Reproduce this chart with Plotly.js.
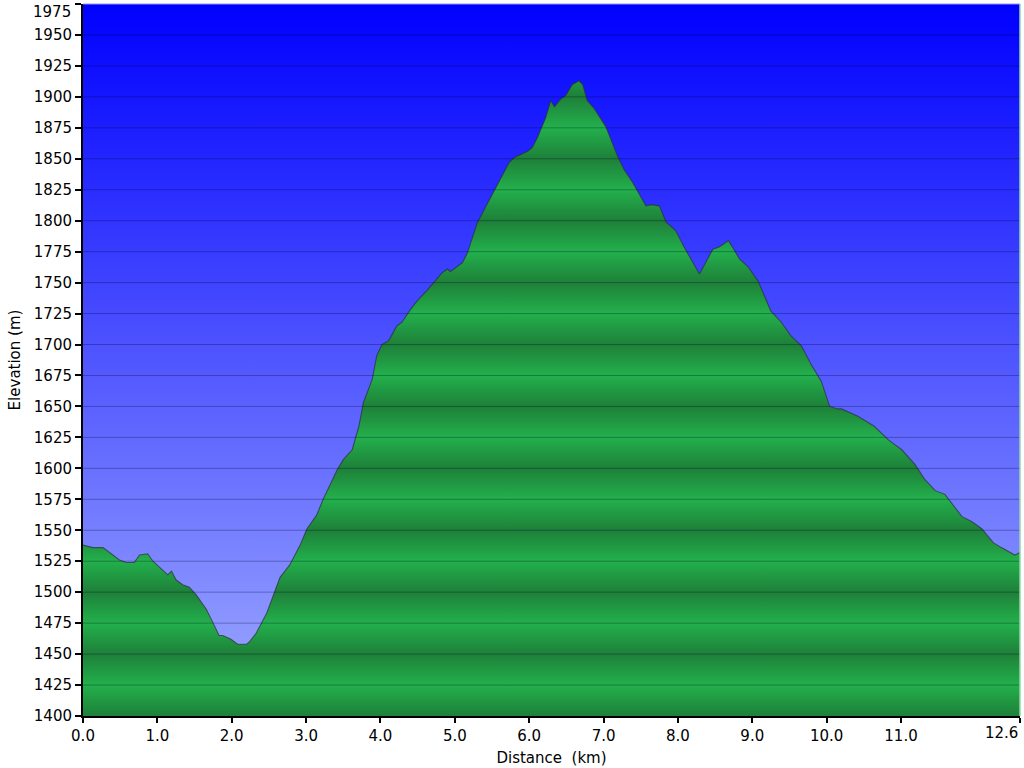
<!DOCTYPE html>
<html>
<head>
<meta charset="utf-8">
<script src="https://cdn.plot.ly/plotly-3.0.1.min.js"></script>
<style>html,body{margin:0;padding:0;background:#fff;}#chart{width:1024px;height:768px;}</style>
</head>
<body>
<div id="chart"></div>
<script>
// Distance (km)
var distanceKm = [0.00,0.13,0.27,0.36,0.49,0.58,0.69,0.76,0.87,0.94,1.03,1.14,1.19,1.25,1.34,1.43,1.52,1.66,1.75,1.83,1.88,1.99,2.08,2.20,2.24,2.33,2.47,2.58,2.65,2.78,2.92,3.01,3.14,3.23,3.42,3.50,3.62,3.71,3.77,3.89,3.95,4.02,4.11,4.22,4.29,4.40,4.49,4.63,4.72,4.78,4.83,4.90,4.94,5.01,5.10,5.17,5.23,5.30,5.44,5.53,5.73,5.80,5.98,6.04,6.11,6.22,6.29,6.34,6.42,6.49,6.58,6.67,6.72,6.78,6.87,7.03,7.19,7.28,7.39,7.57,7.64,7.75,7.84,7.97,8.09,8.29,8.47,8.56,8.68,8.83,8.94,9.08,9.25,9.39,9.52,9.66,9.79,9.93,10.04,10.15,10.20,10.42,10.64,10.83,11.01,11.19,11.32,11.46,11.59,11.82,11.95,12.09,12.24,12.35,12.53,12.60];
// Elevation (m)
var elevationM = [1538,1536,1536,1532,1526,1524,1524,1530,1531,1525,1520,1514,1517,1510,1506,1504,1498,1486,1475,1465,1465,1462,1458,1458,1460,1467,1483,1500,1512,1522,1538,1551,1562,1575,1599,1607,1615,1634,1653,1672,1691,1700,1703,1715,1718,1728,1735,1744,1750,1754,1758,1761,1759,1762,1766,1774,1785,1798,1814,1824,1847,1851,1856,1859,1867,1883,1897,1892,1898,1901,1910,1913,1910,1897,1891,1876,1852,1841,1831,1812,1813,1812,1799,1792,1778,1757,1777,1779,1784,1769,1763,1751,1727,1718,1707,1699,1684,1670,1650,1648,1648,1642,1634,1623,1615,1603,1591,1582,1579,1561,1557,1551,1540,1536,1530,1532];
// Axis ticks
var xTickVals = [0,1,2,3,4,5,6,7,8,9,10,11,12.6];
var xTickText = ["0.0","1.0","2.0","3.0","4.0","5.0","6.0","7.0","8.0","9.0","10.0","11.0",""];
var yTickVals = [];
for (var v = 1400; v <= 1975; v += 25) yTickVals.push(v);
var yTickText = yTickVals.map(function (t) { return t === 1975 ? '' : String(t); });

var xMin = 0, xMax = 12.6, yMin = 1400, yMax = 1975;

// banded green colorscale: dark at multiples of 50, bright at odd 25s
var greenScale = [];
for (var i = 0; i < yTickVals.length; i++) {
  var dark = (yTickVals[i] % 50 === 0);
  greenScale.push([(yTickVals[i] - yMin) / (yMax - yMin), dark ? 'rgb(30,128,57)' : 'rgb(35,176,76)']);
}

var bg = {
  x: [xMin, xMax, xMax, xMin], y: [yMin, yMin, yMax, yMax],
  type: 'scatter', mode: 'lines', fill: 'toself',
  line: {width: 0},
  fillgradient: {type: 'vertical', colorscale: [[0,'rgb(160,172,255)'],[1,'rgb(0,0,255)']], start: yMin, stop: yMax},
  hoverinfo: 'skip', showlegend: false
};

var profile = {
  x: distanceKm, y: elevationM,
  type: 'scatter', mode: 'lines', fill: 'tozeroy',
  line: {color: 'rgba(45,45,60,0.7)', width: 1.1},
  fillgradient: {type: 'vertical', colorscale: greenScale, start: yMin, stop: yMax},
  showlegend: false
};

var shapes = yTickVals.slice(1).map(function (t) {
  return {type: 'line', xref: 'paper', yref: 'y', x0: 0, x1: 1, y0: t, y1: t,
          line: {color: 'rgba(0,0,40,0.3)', width: 1}, layer: 'above'};
});
shapes.push({type: 'line', xref: 'paper', yref: 'paper', x0: 0, x1: 1, y0: 1, y1: 1,
             line: {color: 'rgb(140,150,255)', width: 1}, layer: 'above'});
shapes.push({type: 'line', xref: 'paper', yref: 'paper', x0: 1, x1: 1, y0: 0, y1: 1,
             line: {color: 'rgb(150,215,170)', width: 1.5}, layer: 'above'});

var font = {family: 'DejaVu Sans, Verdana, sans-serif', size: 15, color: '#000'};

var layout = {
  width: 1024, height: 768,
  margin: {l: 83, r: 4, t: 4, b: 52},
  paper_bgcolor: '#fff', plot_bgcolor: '#fff',
  font: font,
  xaxis: {
    range: [xMin, xMax], tickvals: xTickVals, ticktext: xTickText,
    ticks: 'outside', ticklen: 5, tickwidth: 2, tickcolor: '#000',
    showline: true, linecolor: '#000', linewidth: 2, showgrid: false, zeroline: false,
    tickfont: font, layer: 'above traces',
    title: {text: 'Distance\u00a0 (km)', font: font, standoff: 8}, automargin: false
  },
  yaxis: {
    range: [yMin, yMax], tickvals: yTickVals, ticktext: yTickText,
    ticks: 'outside', ticklen: 6, tickwidth: 2, tickcolor: '#000',
    showline: true, linecolor: '#000', linewidth: 2, showgrid: false, zeroline: false,
    tickfont: font, layer: 'above traces',
    title: {text: 'Elevation (m)', font: font, standoff: 10}, automargin: false
  },
  shapes: shapes,
  annotations: [{
    xref: 'x', yref: 'paper', x: xMax, y: 0, text: '12.6', showarrow: false,
    xanchor: 'right', yanchor: 'top', yshift: -6, font: font
  }, {
    xref: 'paper', yref: 'y', x: 0, y: yMax, text: '1975', showarrow: false,
    xanchor: 'right', yanchor: 'top', xshift: -10, yshift: 3, font: font
  }],
  showlegend: false
};

Plotly.newPlot('chart', [bg, profile], layout, {staticPlot: true, displayModeBar: false});
</script>
</body>
</html>
